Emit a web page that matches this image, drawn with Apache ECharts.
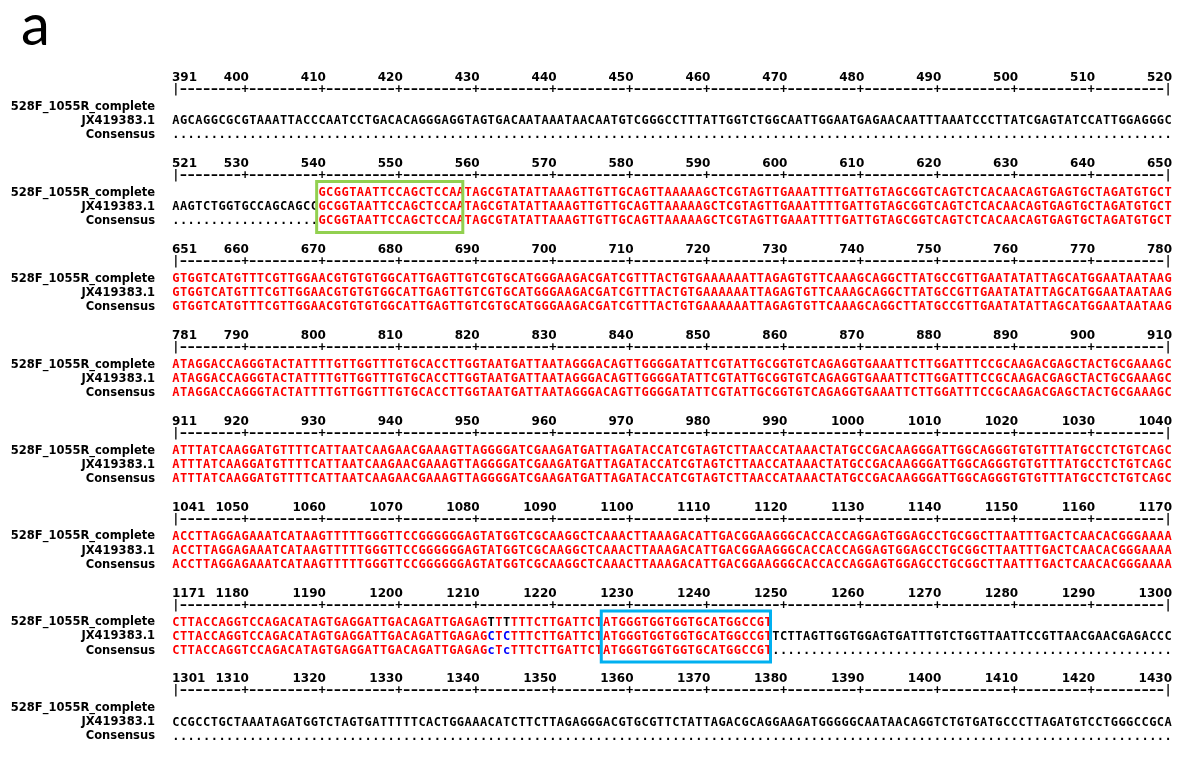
<!DOCTYPE html>
<html>
<head>
<meta charset="utf-8">
<script src="https://cdn.jsdelivr.net/npm/echarts@6/dist/echarts.min.js"></script>
<style>
  html, body { margin: 0; padding: 0; background: #ffffff; }
  #chart { width: 1183px; height: 761px; }
</style>
</head>
<body>
<div id="chart"></div>
<script>
// Alignment of the 528F/1055R amplicon against JX419383.1 (positions 391-1430)
const blockStarts = [391, 521, 651, 781, 911, 1041, 1171, 1301];
const BLOCK_LEN = 130;
const sequenceNames = ['528F_1055R_complete', 'JX419383.1', 'Consensus'];

// JX419383.1, one string per 130-nt block
const refLines = [
  'AGCAGGCGCGTAAATTACCCAATCCTGACACAGGGAGGTAGTGACAATAAATAACAATGTCGGGCCTTTATTGGTCTGGCAATTGGAATGAGAACAATTTAAATCCCTTATCGAGTATCCATTGGAGGGC',
  'AAGTCTGGTGCCAGCAGCCGCGGTAATTCCAGCTCCAATAGCGTATATTAAAGTTGTTGCAGTTAAAAAGCTCGTAGTTGAAATTTTGATTGTAGCGGTCAGTCTCACAACAGTGAGTGCTAGATGTGCT',
  'GTGGTCATGTTTCGTTGGAACGTGTGTGGCATTGAGTTGTCGTGCATGGGAAGACGATCGTTTACTGTGAAAAAATTAGAGTGTTCAAAGCAGGCTTATGCCGTTGAATATATTAGCATGGAATAATAAG',
  'ATAGGACCAGGGTACTATTTTGTTGGTTTGTGCACCTTGGTAATGATTAATAGGGACAGTTGGGGATATTCGTATTGCGGTGTCAGAGGTGAAATTCTTGGATTTCCGCAAGACGAGCTACTGCGAAAGC',
  'ATTTATCAAGGATGTTTTCATTAATCAAGAACGAAAGTTAGGGGATCGAAGATGATTAGATACCATCGTAGTCTTAACCATAAACTATGCCGACAAGGGATTGGCAGGGTGTGTTTATGCCTCTGTCAGC',
  'ACCTTAGGAGAAATCATAAGTTTTTGGGTTCCGGGGGGAGTATGGTCGCAAGGCTCAAACTTAAAGACATTGACGGAAGGGCACCACCAGGAGTGGAGCCTGCGGCTTAATTTGACTCAACACGGGAAAA',
  'CTTACCAGGTCCAGACATAGTGAGGATTGACAGATTGAGAGCTCTTTCTTGATTCTATGGGTGGTGGTGCATGGCCGTTCTTAGTTGGTGGAGTGATTTGTCTGGTTAATTCCGTTAACGAACGAGACCC',
  'CCGCCTGCTAAATAGATGGTCTAGTGATTTTTCACTGGAAACATCTTCTTAGAGGGACGTGCGTTCTATTAGACGCAGGAAGATGGGGGCAATAACAGGTCTGTGATGCCCTTAGATGTCCTGGGCCGCA'
];

// 528F_1055R_complete: covered range and the bases where it differs from JX419383.1
const queryRange = [540, 1248];
const querySubstitutions = [[1212, 'T'], [1214, 'T']];

// Primer sites
const primerSites = [
  { name: '528F', from: 540, to: 558, color: '#92d050' },
  { name: '1055R', from: 1227, to: 1248, color: '#00b0f0' }
];

const RED = '#ff0000', BLUE = '#0000ff', BLACK = '#000000';
const SEQ_FONT = 'bold 12px "DejaVu Sans Mono"';
const NUM_FONT = 'bold 12px "DejaVu Sans"';
const NAME_FONT = 'bold 11.5px "DejaVu Sans"';

// vertical layout of a block (pixel rows on the y axis)
const LAYOUT = { ticksY: 78, rulerY: 90, firstSeqY: 107, seqGap: 14.1, blockStep: 85.9 };

const subMap = {};
querySubstitutions.forEach(([p, b]) => { subMap[p] = b; });
function queryBase(pos, refBase) {
  if (pos < queryRange[0] || pos > queryRange[1]) return null;
  return subMap[pos] || refBase;
}

const cells = [];
function addCell(col, y, ch, color, font, align, dx, sx) {
  cells.push({ col, y, ch, color, font, align: align || 'center', dx: dx || 0, sx: sx || 1 });
}

blockStarts.forEach((start, b) => {
  const line = refLines[b];
  const yTicks = LAYOUT.ticksY + b * LAYOUT.blockStep;
  const yRuler = LAYOUT.rulerY + b * LAYOUT.blockStep;
  const rowY = [0, 1, 2].map(k => LAYOUT.firstSeqY + b * LAYOUT.blockStep + k * LAYOUT.seqGap);

  // position ruler: labels and |----+----| line
  addCell(-0.5, yTicks, String(start), BLACK, NUM_FONT, 'left');
  for (let i = 9; i < BLOCK_LEN - 1; i += 10) {
    addCell(i + 0.5, yTicks, String(start + i), BLACK, NUM_FONT, 'right');
  }
  addCell(BLOCK_LEN - 0.5, yTicks, String(start + BLOCK_LEN - 1), BLACK, NUM_FONT, 'right');
  for (let i = 0; i < BLOCK_LEN; i++) {
    let ch = '-';
    if (i === 0 || i === BLOCK_LEN - 1) ch = '|';
    else if (i % 10 === 9) ch = '+';
    addCell(i, yRuler, ch, BLACK, SEQ_FONT, 'center', 0, ch === '-' ? 1.5 : 1);
  }

  // sequence names
  sequenceNames.forEach((n, k) => addCell(-0.5, rowY[k], n, BLACK, NAME_FONT, 'right', -17));

  // residues
  for (let i = 0; i < line.length; i++) {
    const pos = start + i;
    const r = line[i];
    const q = queryBase(pos, r);
    if (q) {
      addCell(i, rowY[0], q, q === r ? RED : BLACK, SEQ_FONT);
      addCell(i, rowY[1], r, q === r ? RED : BLUE, SEQ_FONT);
      if (q === r) addCell(i, rowY[2], r, RED, SEQ_FONT);
      else addCell(i, rowY[2], r.toLowerCase(), BLUE, SEQ_FONT);
    } else {
      addCell(i, rowY[1], r, BLACK, SEQ_FONT);
      addCell(i, rowY[2], '.', BLACK, SEQ_FONT);
    }
  }
});

// primer boxes in (column, row) units
const boxes = primerSites.map(s => {
  const b = blockStarts.findIndex(st => s.from >= st && s.from < st + BLOCK_LEN);
  const c0 = s.from - blockStarts[b] - 0.5;
  const c1 = s.to - blockStarts[b] + 0.5;
  const top = LAYOUT.firstSeqY + b * LAYOUT.blockStep - 11.5;
  const bottom = LAYOUT.firstSeqY + b * LAYOUT.blockStep + 2 * LAYOUT.seqGap + 11.5;
  return { c0, c1, top, bottom, color: s.color };
});

const chart = echarts.init(document.getElementById('chart'), null, { renderer: 'canvas' });
chart.setOption({
  animation: false,
  backgroundColor: '#ffffff',
  title: {
    text: 'a',
    left: 16,
    top: -8,
    textStyle: { fontFamily: 'Lato', fontSize: 58, fontWeight: 'normal', color: '#000000' }
  },
  grid: { left: 172, width: 1000, top: 0, height: 761 },
  xAxis: { type: 'value', min: -0.5, max: BLOCK_LEN - 0.5, show: false },
  yAxis: { type: 'value', min: 0, max: 761, inverse: true, show: false },
  series: [
    {
      type: 'custom',
      clip: false,
      silent: true,
      data: cells.map(c => [c.col, c.y]),
      renderItem(params, api) {
        const c = cells[params.dataIndex];
        const p = api.coord([api.value(0), api.value(1)]);
        return {
          type: 'text',
          x: p[0] + c.dx,
          y: p[1],
          scaleX: c.sx,
          style: { text: c.ch, fill: c.color, font: c.font, align: c.align, verticalAlign: 'middle' }
        };
      }
    },
    {
      type: 'custom',
      clip: false,
      silent: true,
      data: boxes.map(b => [b.c0, b.top, b.c1, b.bottom]),
      renderItem(params, api) {
        const a = api.coord([api.value(0), api.value(1)]);
        const z = api.coord([api.value(2), api.value(3)]);
        return {
          type: 'rect',
          shape: { x: a[0] - 1.5, y: a[1], width: z[0] - a[0], height: z[1] - a[1] },
          style: { fill: 'none', stroke: boxes[params.dataIndex].color, lineWidth: 3 }
        };
      }
    }
  ]
});
</script>
</body>
</html>
